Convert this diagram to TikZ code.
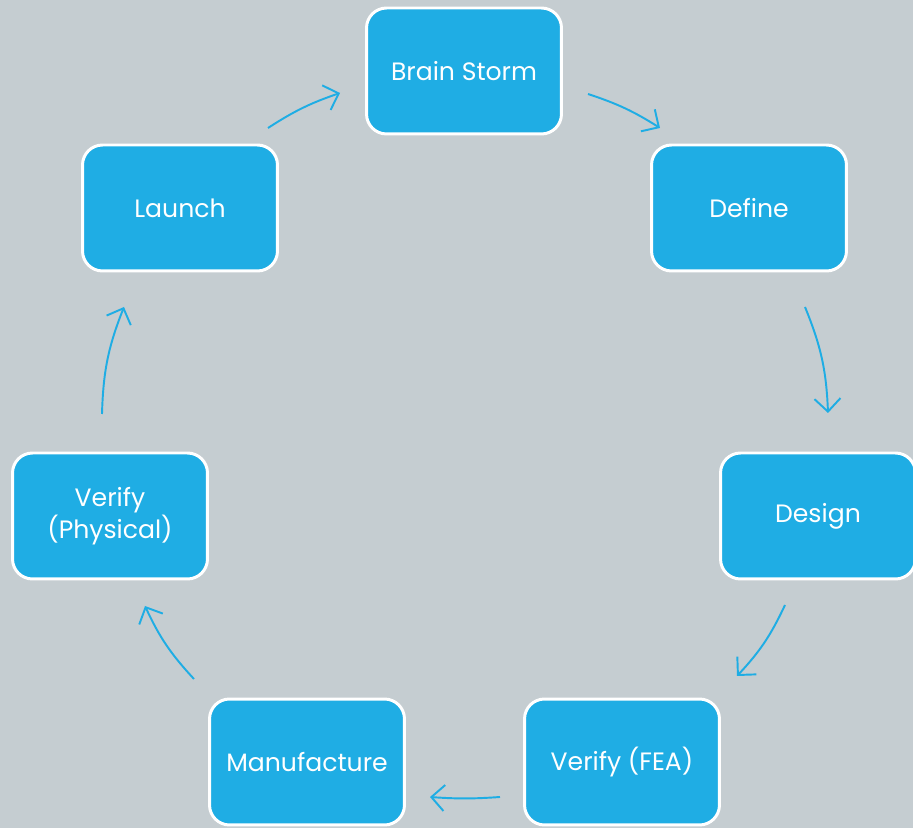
\documentclass[tikz,border=0pt]{standalone}
\usepackage{fontspec}
\setmainfont{Poppins}
\usetikzlibrary{arrows.meta}

\definecolor{slidegray}{RGB}{197,205,209}
\definecolor{stepblue}{RGB}{31,173,228}

\begin{document}
\begin{tikzpicture}[
        x=0.02cm, y=0.02cm,
        stepbox/.style={rectangle,draw=white,fill=stepblue,line width=1.7pt,rounded corners=0.4cm,
            minimum width=3.9cm,minimum height=2.52cm,text=white,align=center,
            font=\fontsize{14.3}{18.5}\selectfont},
        flow/.style={draw=stepblue,line width=1.1pt,-{Straight Barb[length=2.6mm,width=5.2mm]}},
        ]
        \fill[slidegray] (0,0) rectangle (913,828);
        \useasboundingbox (0,0) rectangle (913,828);

        \node[stepbox](brain) at (464,757){Brain Storm};
        \node[stepbox](define) at (749,620){Define};
        \node[stepbox](design) at (818,312){Design};
        \node[stepbox](fea) at (622,66){Verify (FEA)};
        \node[stepbox](manu) at (307,66){Manufacture};
        \node[stepbox](phys) at (110,312){Verify\\(Physical)};
        \node[stepbox](launch) at (180,620){Launch};

        % arrow ends between the boxes
        \coordinate (launch-out) at (268,700);
        \coordinate (brain-in) at (340,735);
        \coordinate (brain-out) at (588,734);
        \coordinate (define-in) at (660,700);
        \coordinate (define-out) at (805,521);
        \coordinate (design-in) at (828,415);
        \coordinate (design-out) at (785,223);
        \coordinate (fea-in) at (737,152);
        \coordinate (fea-out) at (500,31);
        \coordinate (manu-in) at (430,31);
        \coordinate (manu-out) at (194,149);
        \coordinate (phys-in) at (145,222);
        \coordinate (phys-out) at (102,414);
        \coordinate (launch-in) at (124,521);

        \draw[flow] (launch-out) to[bend left=7] (brain-in);
        \draw[flow] (brain-out) to[bend left=7] (define-in);
        \draw[flow] (define-out) to[bend left=10] (design-in);
        \draw[flow] (design-out) to[bend left=9] (fea-in);
        \draw[flow] (fea-out) to[bend left=4] (manu-in);
        \draw[flow] (manu-out) to[bend left=9] (phys-in);
        \draw[flow] (phys-out) to[bend left=10] (launch-in);

        \end{tikzpicture}
\end{document}
